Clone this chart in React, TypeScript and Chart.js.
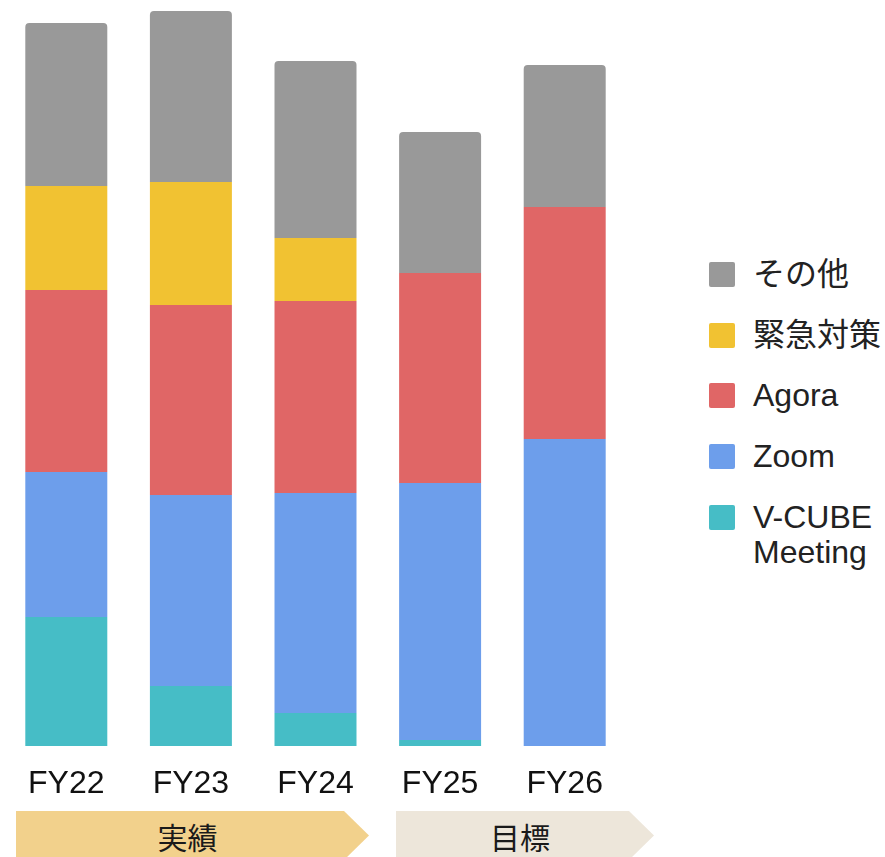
import React, { useEffect, useRef } from "react";
import { Chart, registerables } from "chart.js";

Chart.register(...registerables);

const categories = ["FY22", "FY23", "FY24", "FY25", "FY26"];

// Stack order bottom -> top
const vcubeMeeting = [129, 60, 33, 6, 0];
const zoom = [145, 191, 220, 257, 307];
const agora = [182, 190, 192, 210, 232];
const kinkyuTaisaku = [104, 123, 63, 0, 0];
const sonota = [163, 171, 177, 141, 142];

const seriesNames = ["V-CUBE\nMeeting", "Zoom", "Agora", "緊急対策", "その他"];
const seriesColors = ["#46BDC6", "#6D9EEB", "#E06666", "#F1C232", "#999999"];
const seriesValues = [vcubeMeeting, zoom, agora, kinkyuTaisaku, sonota];

const yMax = 746;

const phaseLabels = ["実績", "目標"];
const phaseColors = ["#F2D18C", "#EDE6DA"];

const FONT = '"Liberation Sans", Arial, "Noto Sans CJK JP", sans-serif';

export default function App() {
  const canvasRef = useRef<HTMLCanvasElement | null>(null);

  useEffect(() => {
    if (!canvasRef.current) return;
    const chart = new Chart(canvasRef.current, {
      type: "bar",
      data: {
        labels: categories,
        datasets: seriesValues.map((vals, i) => ({
          label: seriesNames[i],
          data: vals,
          backgroundColor: seriesColors[i],
          borderWidth: 0,
          borderRadius: 4,
          categoryPercentage: 1,
          barPercentage: 0.658,
        })),
      },
      options: {
        responsive: false,
        animation: false,
        devicePixelRatio: 1,
        layout: { padding: { left: 4, right: 0, top: 0, bottom: 0 } },
        plugins: {
          legend: { display: false },
          tooltip: { enabled: false },
        },
        scales: {
          x: {
            stacked: true,
            grid: { display: false, drawTicks: false },
            border: { display: false },
            ticks: {
              padding: 19,
              color: "#111111",
              font: { family: FONT, size: 32 },
            },
            afterFit: (scale: any) => {
              scale.height = 60;
            },
          },
          y: {
            stacked: true,
            display: false,
            min: 0,
            max: yMax,
          },
        },
      },
    });
    return () => chart.destroy();
  }, []);

  const legendOrder = [4, 3, 2, 1, 0];

  const bannerStyle = (
    left: number,
    width: number,
    color: string
  ): React.CSSProperties => ({
    position: "absolute",
    left,
    top: 811,
    width,
    height: 46,
    background: color,
    clipPath: `polygon(0 0, ${width - 25}px 0, ${width}px 24.5px, ${width - 25}px 49px, 0 49px)`,
    display: "flex",
    alignItems: "center",
    justifyContent: "center",
    paddingRight: 10,
    boxSizing: "border-box",
    paddingTop: 4,
    fontFamily: '"Noto Sans CJK JP", sans-serif',
    fontSize: 30,
    color: "#1a1a1a",
    lineHeight: "1",
  });

  return (
    <div
      style={{
        position: "absolute",
        left: 0,
        top: 0,
        width: 885,
        height: 857,
        overflow: "hidden",
        background: "#ffffff",
      }}
    >
      <canvas
        ref={canvasRef}
        width={627}
        height={806}
        style={{ position: "absolute", left: 0, top: 0, width: 627, height: 806 }}
      />
      <div
        style={{
          position: "absolute",
          left: 709,
          top: 257,
          display: "flex",
          flexDirection: "column",
          gap: 25.7,
          fontFamily: FONT,
          fontSize: 32,
          color: "#222222",
        }}
      >
        {legendOrder.map((idx) => (
          <div key={idx} style={{ display: "flex", alignItems: "flex-start" }}>
            <div
              style={{
                width: 26,
                height: 25,
                marginTop: 5,
                borderRadius: 2,
                background: seriesColors[idx],
                flex: "0 0 auto",
              }}
            />
            <div
              style={{
                marginLeft: 18,
                lineHeight: "35px",
                whiteSpace: "pre",
              }}
            >
              {seriesNames[idx]}
            </div>
          </div>
        ))}
      </div>
      <div style={bannerStyle(16, 353, phaseColors[0])}>{phaseLabels[0]}</div>
      <div style={bannerStyle(396, 258, phaseColors[1])}>{phaseLabels[1]}</div>
    </div>
  );
}
